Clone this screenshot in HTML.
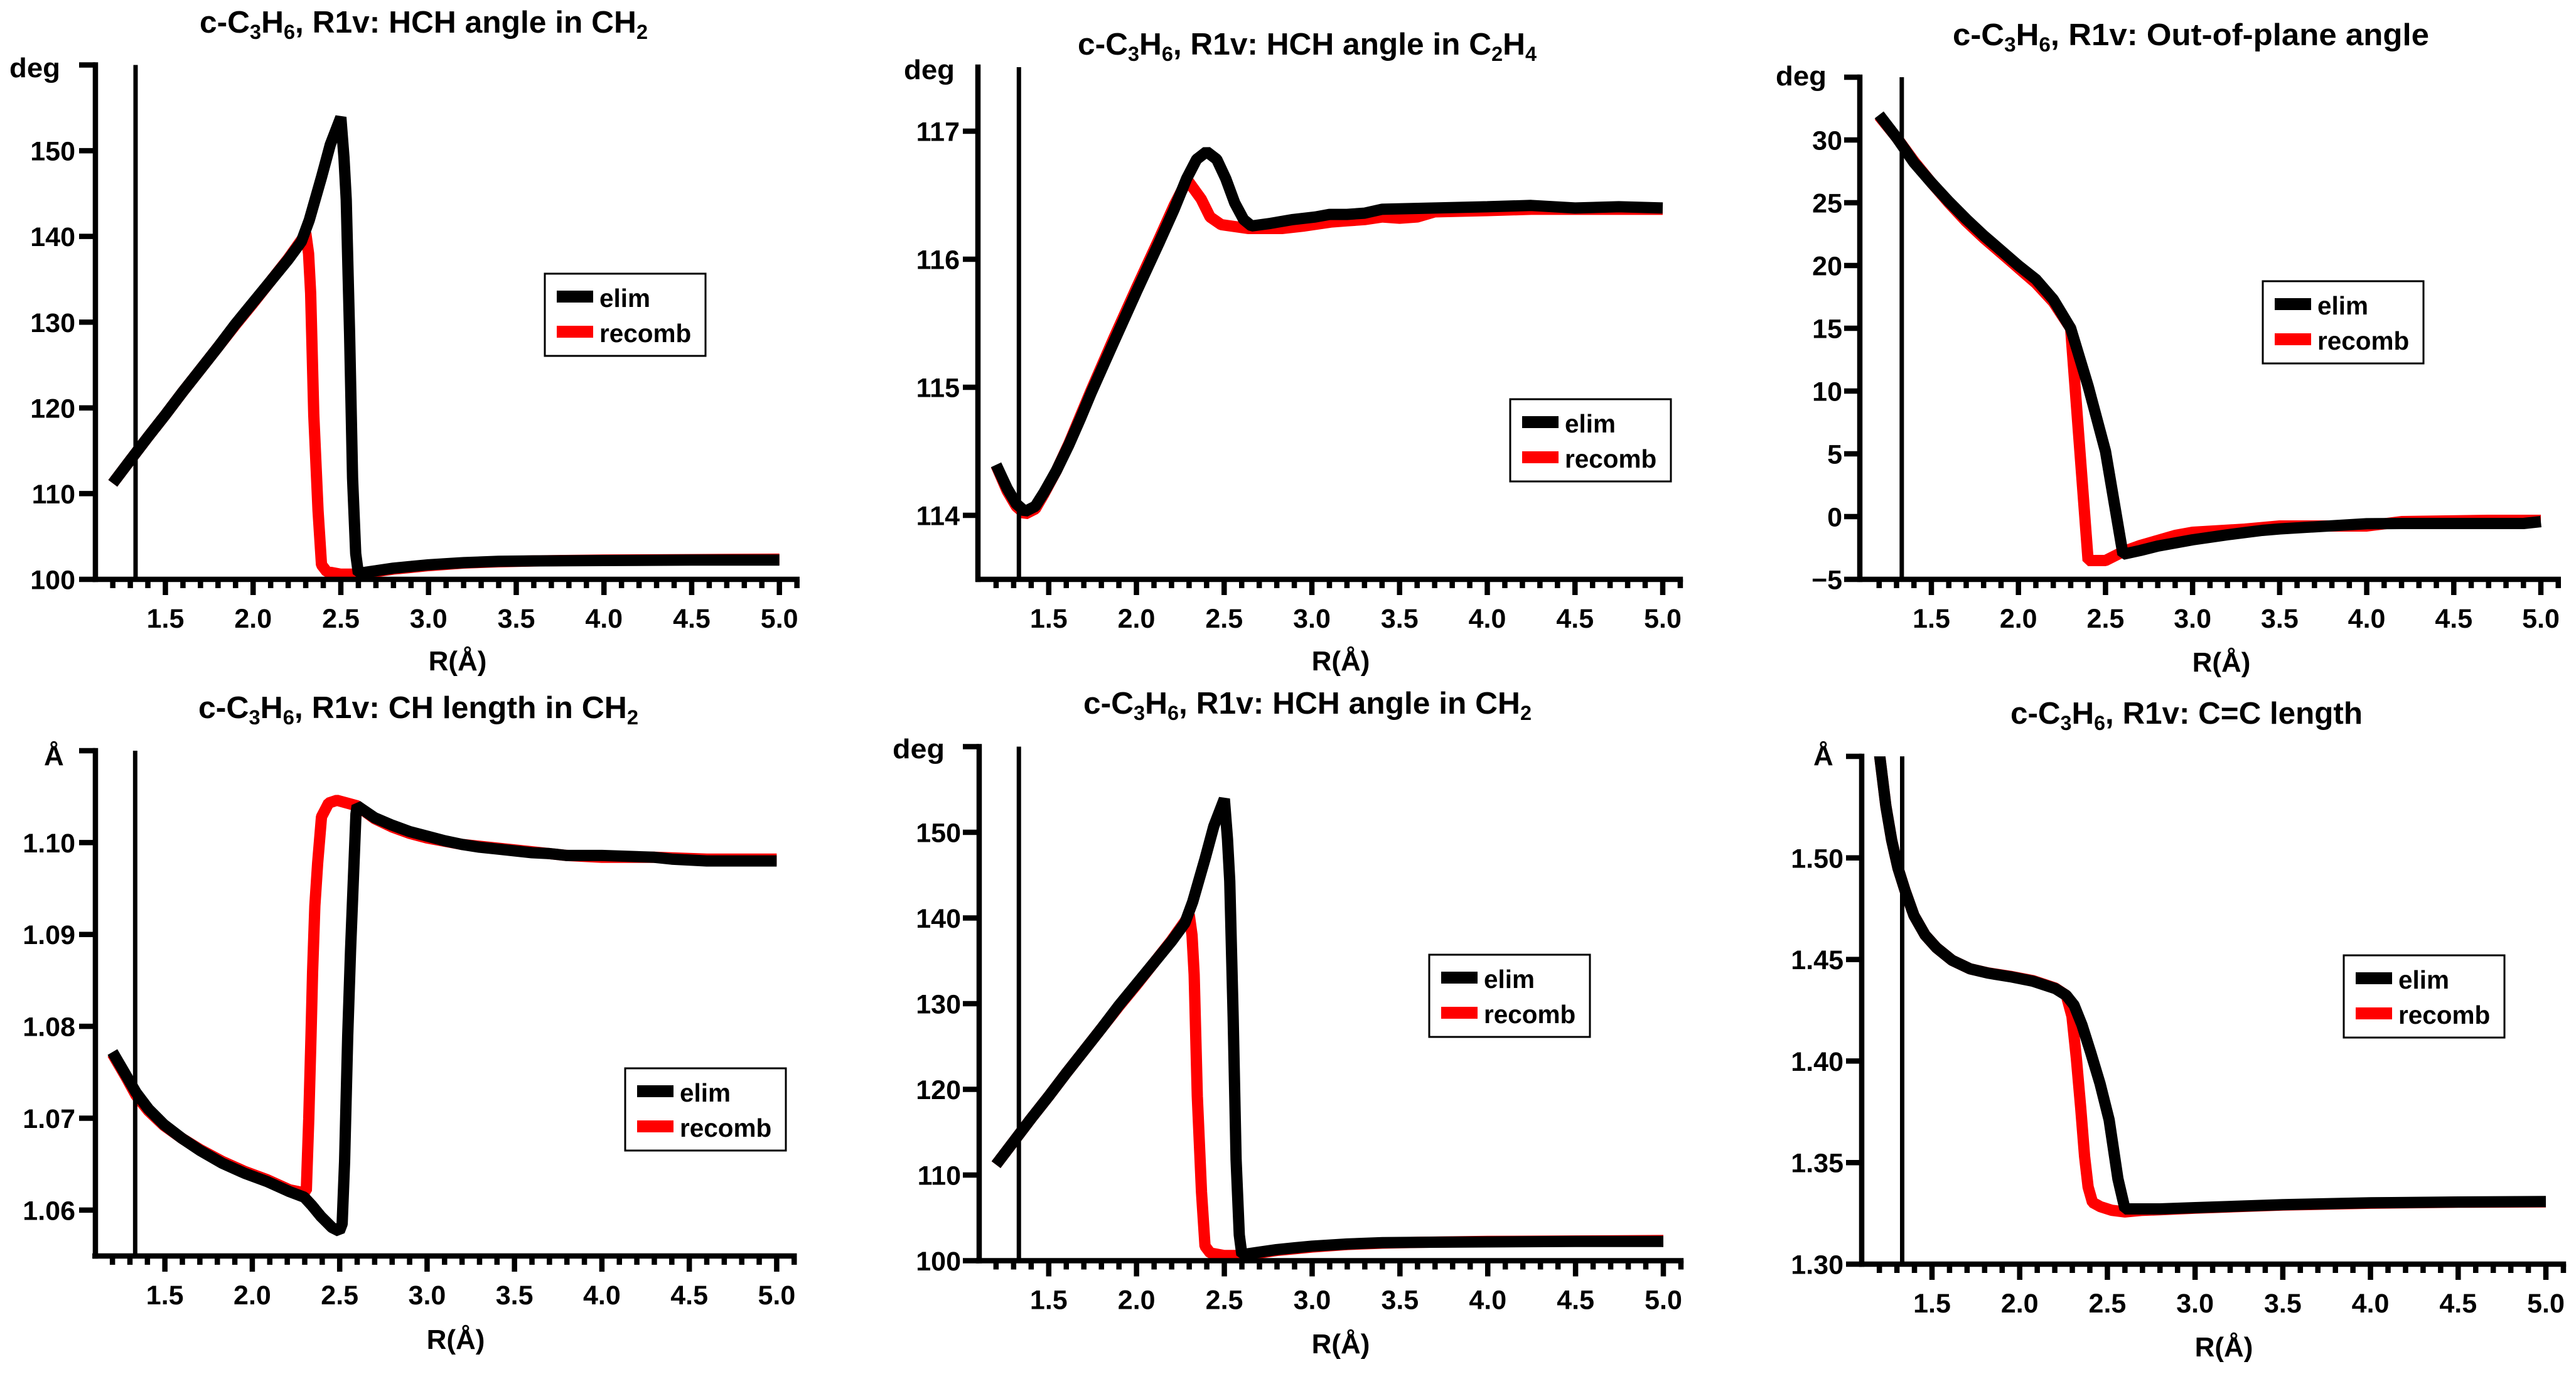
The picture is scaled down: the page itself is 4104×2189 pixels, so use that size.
<!DOCTYPE html>
<html lang="en">
<head>
<meta charset="utf-8">
<title>c-C3H6 R1v geometry panels</title>
<style>
html,body{margin:0;padding:0;background:#fff;}
svg{display:block;}
text{font-family:"Liberation Sans",sans-serif;font-weight:700;fill:#000;}
.title{font-size:49px;}
.title .s{font-size:32px;}
.lab{font-size:44px;}
.tick{font-size:43px;}
.leg{font-size:40.5px;}
</style>
</head>
<body>
<svg id="figure" xmlns="http://www.w3.org/2000/svg" width="4104" height="2189" viewBox="0 0 4104 2189">
<rect x="0" y="0" width="4104" height="2189" fill="#fff"/>
<g id="plots"></g>

<text class="title" x="318" y="52" textLength="714" lengthAdjust="spacingAndGlyphs">c-C<tspan class="s" dy="10">3</tspan><tspan dy="-10">H</tspan><tspan class="s" dy="10">6</tspan><tspan dy="-10">, R1v: HCH angle in CH</tspan><tspan class="s" dy="10">2</tspan></text>
<text class="title" x="1717" y="87" textLength="731" lengthAdjust="spacingAndGlyphs">c-C<tspan class="s" dy="10">3</tspan><tspan dy="-10">H</tspan><tspan class="s" dy="10">6</tspan><tspan dy="-10">, R1v: HCH angle in C</tspan><tspan class="s" dy="10">2</tspan><tspan dy="-10">H</tspan><tspan class="s" dy="10">4</tspan></text>
<text class="title" x="3111" y="72" textLength="759" lengthAdjust="spacingAndGlyphs">c-C<tspan class="s" dy="10">3</tspan><tspan dy="-10">H</tspan><tspan class="s" dy="10">6</tspan><tspan dy="-10">, R1v: Out-of-plane angle</tspan></text>
<text class="title" x="316" y="1144" textLength="701" lengthAdjust="spacingAndGlyphs">c-C<tspan class="s" dy="10">3</tspan><tspan dy="-10">H</tspan><tspan class="s" dy="10">6</tspan><tspan dy="-10">, R1v: CH length in CH</tspan><tspan class="s" dy="10">2</tspan></text>
<text class="title" x="1726" y="1137" textLength="714" lengthAdjust="spacingAndGlyphs">c-C<tspan class="s" dy="10">3</tspan><tspan dy="-10">H</tspan><tspan class="s" dy="10">6</tspan><tspan dy="-10">, R1v: HCH angle in CH</tspan><tspan class="s" dy="10">2</tspan></text>
<text class="title" x="3203" y="1153" textLength="561" lengthAdjust="spacingAndGlyphs">c-C<tspan class="s" dy="10">3</tspan><tspan dy="-10">H</tspan><tspan class="s" dy="10">6</tspan><tspan dy="-10">, R1v: C=C length</tspan></text>

<text class="lab" x="15" y="123" textLength="81" lengthAdjust="spacingAndGlyphs">deg</text>
<text class="lab" x="1440" y="126" textLength="81" lengthAdjust="spacingAndGlyphs">deg</text>
<text class="lab" x="2829" y="136" textLength="81" lengthAdjust="spacingAndGlyphs">deg</text>
<text class="lab" x="70" y="1219">Å</text>
<text class="lab" x="1422" y="1208" textLength="83" lengthAdjust="spacingAndGlyphs">deg</text>
<text class="lab" x="2889" y="1219">Å</text>

<text class="lab" x="729" y="1068" text-anchor="middle">R(Å)</text>
<text class="lab" x="2136" y="1068" text-anchor="middle">R(Å)</text>
<text class="lab" x="3539" y="1070" text-anchor="middle">R(Å)</text>
<text class="lab" x="726" y="2149" text-anchor="middle">R(Å)</text>
<text class="lab" x="2136" y="2156" text-anchor="middle">R(Å)</text>
<text class="lab" x="3543" y="2161" text-anchor="middle">R(Å)</text>

<g transform="translate(868 436)">
<rect x="0" y="0" width="256" height="131" fill="#fff" stroke="#000" stroke-width="3"/>
<rect x="19" y="27" width="58" height="19" fill="#000"/>
<text class="leg" x="87" y="53">elim</text>
<rect x="19" y="83" width="58" height="19" fill="#f00"/>
<text class="leg" x="87" y="109">recomb</text>
</g>
<g transform="translate(2406 636)">
<rect x="0" y="0" width="256" height="131" fill="#fff" stroke="#000" stroke-width="3"/>
<rect x="19" y="27" width="58" height="19" fill="#000"/>
<text class="leg" x="87" y="53">elim</text>
<rect x="19" y="83" width="58" height="19" fill="#f00"/>
<text class="leg" x="87" y="109">recomb</text>
</g>
<g transform="translate(3605 448)">
<rect x="0" y="0" width="256" height="131" fill="#fff" stroke="#000" stroke-width="3"/>
<rect x="19" y="27" width="58" height="19" fill="#000"/>
<text class="leg" x="87" y="53">elim</text>
<rect x="19" y="83" width="58" height="19" fill="#f00"/>
<text class="leg" x="87" y="109">recomb</text>
</g>
<g transform="translate(996 1702)">
<rect x="0" y="0" width="256" height="131" fill="#fff" stroke="#000" stroke-width="3"/>
<rect x="19" y="27" width="58" height="19" fill="#000"/>
<text class="leg" x="87" y="53">elim</text>
<rect x="19" y="83" width="58" height="19" fill="#f00"/>
<text class="leg" x="87" y="109">recomb</text>
</g>
<g transform="translate(2277 1521)">
<rect x="0" y="0" width="256" height="131" fill="#fff" stroke="#000" stroke-width="3"/>
<rect x="19" y="27" width="58" height="19" fill="#000"/>
<text class="leg" x="87" y="53">elim</text>
<rect x="19" y="83" width="58" height="19" fill="#f00"/>
<text class="leg" x="87" y="109">recomb</text>
</g>
<g transform="translate(3734 1522)">
<rect x="0" y="0" width="256" height="131" fill="#fff" stroke="#000" stroke-width="3"/>
<rect x="19" y="27" width="58" height="19" fill="#000"/>
<text class="leg" x="87" y="53">elim</text>
<rect x="19" y="83" width="58" height="19" fill="#f00"/>
<text class="leg" x="87" y="109">recomb</text>
</g>
</svg>

<script>
// ---- shared axis data ----
const xMajorTicks = [1.5, 2.0, 2.5, 3.0, 3.5, 4.0, 4.5, 5.0];
const xMajorLabels = ['1.5', '2.0', '2.5', '3.0', '3.5', '4.0', '4.5', '5.0'];
const xMinorTicks = [1.2, 1.3, 1.4, 1.6, 1.7, 1.8, 1.9, 2.1, 2.2, 2.3, 2.4, 2.6, 2.7, 2.8, 2.9, 3.1, 3.2, 3.3, 3.4, 3.6, 3.7, 3.8, 3.9, 4.1, 4.2, 4.3, 4.4, 4.6, 4.7, 4.8, 4.9, 5.1];
const xAxisEnd = 5.1;
const xAxisStart = 1.1;
const referenceR = 1.33;

// ---- panel 1: HCH angle in CH2 (top) ----
const p1YTicks = [100, 110, 120, 130, 140, 150, 160];
const p1YLabels = ['100', '110', '120', '130', '140', '150', ''];
const p1ElimR = [1.2, 1.3, 1.4, 1.5, 1.6, 1.7, 1.8, 1.9, 2.0, 2.1, 2.2, 2.275, 2.32, 2.39, 2.44, 2.5, 2.518, 2.531, 2.55, 2.567, 2.585, 2.6, 2.7, 2.8, 2.9, 3.0, 3.2, 3.4, 3.6, 4.0, 4.5, 5.0];
const p1ElimV = [111.2, 113.9, 116.6, 119.2, 121.9, 124.5, 127.1, 129.8, 132.3, 134.8, 137.3, 139.4, 141.9, 146.9, 150.7, 153.9, 149.2, 144.3, 128.5, 111.8, 103, 100.7, 101, 101.3, 101.5, 101.7, 101.95, 102.1, 102.15, 102.2, 102.25, 102.25];
const p1RecombR = [1.2, 1.3, 1.4, 1.5, 1.6, 1.7, 1.8, 1.9, 2.0, 2.1, 2.2, 2.29, 2.3, 2.316, 2.328, 2.346, 2.37, 2.39, 2.42, 2.5, 2.6, 2.7, 2.8, 2.9, 3.0, 3.2, 3.4, 3.6, 4.0, 4.5, 5.0];
const p1RecombV = [111.2, 113.9, 116.6, 119.2, 121.9, 124.5, 127.1, 129.7, 132.2, 134.8, 137.4, 140, 140.4, 138, 133.4, 119.2, 108, 101.7, 100.9, 100.6, 100.6, 100.9, 101.2, 101.4, 101.6, 101.9, 102.05, 102.15, 102.25, 102.3, 102.35];

// ---- panel 2: HCH angle in C2H4 ----
const p2YTicks = [114, 115, 116, 117];
const p2YLabels = ['114', '115', '116', '117'];
const p2ElimR = [1.2, 1.263, 1.315, 1.365, 1.423, 1.474, 1.544, 1.615, 1.679, 1.743, 1.87, 1.998, 2.126, 2.215, 2.286, 2.343, 2.4, 2.458, 2.509, 2.56, 2.611, 2.656, 2.764, 2.892, 3.02, 3.1, 3.2, 3.3, 3.4, 3.7, 4.0, 4.25, 4.5, 4.75, 5.0];
const p2ElimV = [114.395, 114.21, 114.09, 114.03, 114.07, 114.18, 114.35, 114.55, 114.75, 114.96, 115.35, 115.74, 116.12, 116.39, 116.63, 116.78, 116.84, 116.78, 116.63, 116.44, 116.31, 116.26, 116.28, 116.31, 116.33, 116.35, 116.35, 116.36, 116.39, 116.4, 116.41, 116.42, 116.4, 116.41, 116.4];
const p2RecombR = [1.2, 1.263, 1.315, 1.365, 1.423, 1.474, 1.544, 1.615, 1.679, 1.743, 1.87, 1.998, 2.126, 2.215, 2.29, 2.311, 2.369, 2.42, 2.483, 2.637, 2.828, 2.957, 3.107, 3.2, 3.3, 3.4, 3.5, 3.6, 3.7, 4.0, 4.25, 4.5, 5.0];
const p2RecombV = [114.39, 114.19, 114.07, 114.01, 114.05, 114.17, 114.35, 114.56, 114.77, 114.98, 115.38, 115.77, 116.15, 116.42, 116.62, 116.58, 116.47, 116.33, 116.27, 116.24, 116.24, 116.26, 116.29, 116.3, 116.31, 116.33, 116.32, 116.33, 116.37, 116.38, 116.39, 116.39, 116.39];

// ---- panel 3: out-of-plane angle ----
const p3YTicks = [-5, 0, 5, 10, 15, 20, 25, 30, 35];
const p3YLabels = ['\u22125', '0', '5', '10', '15', '20', '25', '30', ''];
const p3ElimR = [1.2, 1.3, 1.4, 1.5, 1.6, 1.7, 1.8, 1.9, 2.0, 2.1, 2.2, 2.3, 2.4, 2.5, 2.6, 2.7, 2.8, 2.9, 3.0, 3.1, 3.2, 3.3, 3.4, 3.5, 4.0, 4.2, 4.5, 4.9, 5.0];
const p3ElimV = [32, 30.2, 28.2, 26.6, 25.1, 23.7, 22.4, 21.2, 20, 18.9, 17.3, 15, 10.4, 5.2, -3, -2.7, -2.35, -2.1, -1.85, -1.65, -1.45, -1.27, -1.1, -0.98, -0.57, -0.55, -0.55, -0.55, -0.4];
const p3RecombR = [1.2, 1.3, 1.4, 1.5, 1.6, 1.7, 1.8, 1.9, 2.0, 2.1, 2.2, 2.3, 2.4, 2.5, 2.6, 2.7, 2.8, 2.9, 3.0, 3.3, 3.5, 3.6, 4.0, 4.2, 4.7, 5.0];
const p3RecombV = [31.9, 30.2, 28.3, 26.6, 25, 23.5, 22.2, 21, 19.8, 18.6, 17.1, 15, -3.5, -3.5, -2.8, -2.3, -1.9, -1.5, -1.25, -1, -0.75, -0.75, -0.75, -0.4, -0.3, -0.3];

// ---- panel 4: CH length in CH2 ----
const p4YTicks = [1.06, 1.07, 1.08, 1.09, 1.10, 1.11];
const p4YLabels = ['1.06', '1.07', '1.08', '1.09', '1.10', ''];
const p4ElimR = [1.2, 1.277, 1.335, 1.406, 1.495, 1.598, 1.7, 1.828, 1.957, 2.085, 2.213, 2.297, 2.341, 2.393, 2.456, 2.498, 2.514, 2.528, 2.54, 2.546, 2.562, 2.593, 2.6, 2.7, 2.8, 2.9, 3.0, 3.1, 3.2, 3.3, 3.4, 3.5, 3.6, 3.7, 3.8, 4.0, 4.3, 4.4, 4.6, 5.0];
const p4ElimV = [1.0772, 1.0747, 1.0728, 1.071, 1.0693, 1.0678, 1.0665, 1.0651, 1.064, 1.0631, 1.062, 1.0614, 1.0605, 1.0593, 1.0581, 1.0577, 1.0585, 1.0653, 1.0744, 1.079, 1.0883, 1.1031, 1.104, 1.1027, 1.1019, 1.1012, 1.1007, 1.1002, 1.0998, 1.0995, 1.0993, 1.0991, 1.0989, 1.0988, 1.0986, 1.0986, 1.0984, 1.0982, 1.098, 1.098];
const p4RecombR = [1.2, 1.277, 1.335, 1.406, 1.495, 1.598, 1.7, 1.828, 1.957, 2.085, 2.213, 2.29, 2.309, 2.323, 2.336, 2.345, 2.358, 2.374, 2.396, 2.437, 2.484, 2.6, 2.7, 2.8, 2.9, 3.0, 3.2, 3.5, 3.8, 4.0, 4.3, 4.6, 5.0];
const p4RecombV = [1.077, 1.0745, 1.0725, 1.0708, 1.0692, 1.0678, 1.0666, 1.0653, 1.0642, 1.0633, 1.0622, 1.0619, 1.0621, 1.0699, 1.079, 1.0859, 1.0931, 1.0978, 1.1028, 1.1043, 1.1046, 1.104, 1.1026, 1.1017, 1.101, 1.1005, 1.0998, 1.0992, 1.0986, 1.0984, 1.0984, 1.0982, 1.0982];

// ---- panel 5: HCH angle in CH2 (bottom) ----
const p5YTicks = [100, 110, 120, 130, 140, 150, 160];
const p5YLabels = ['100', '110', '120', '130', '140', '150', ''];
const p5ElimR = [1.2, 1.3, 1.4, 1.5, 1.6, 1.7, 1.8, 1.9, 2.0, 2.1, 2.2, 2.275, 2.32, 2.39, 2.44, 2.5, 2.518, 2.531, 2.55, 2.567, 2.585, 2.6, 2.7, 2.8, 2.9, 3.0, 3.2, 3.4, 3.6, 4.0, 4.5, 5.0];
const p5ElimV = [111.2, 113.9, 116.6, 119.2, 121.9, 124.5, 127.1, 129.8, 132.3, 134.8, 137.3, 139.4, 141.9, 146.9, 150.7, 153.9, 149.2, 144.3, 128.5, 111.8, 103, 100.7, 101, 101.3, 101.5, 101.7, 101.95, 102.1, 102.15, 102.2, 102.25, 102.25];
const p5RecombR = [1.2, 1.3, 1.4, 1.5, 1.6, 1.7, 1.8, 1.9, 2.0, 2.1, 2.2, 2.29, 2.3, 2.316, 2.328, 2.346, 2.37, 2.39, 2.42, 2.5, 2.6, 2.7, 2.8, 2.9, 3.0, 3.2, 3.4, 3.6, 4.0, 4.5, 5.0];
const p5RecombV = [111.2, 113.9, 116.6, 119.2, 121.9, 124.5, 127.1, 129.7, 132.2, 134.8, 137.4, 140, 140.4, 138, 133.4, 119.2, 108, 101.7, 100.9, 100.6, 100.6, 100.9, 101.2, 101.4, 101.6, 101.9, 102.05, 102.15, 102.25, 102.3, 102.35];

// ---- panel 6: C=C length ----
const p6YTicks = [1.30, 1.35, 1.40, 1.45, 1.50, 1.55];
const p6YLabels = ['1.30', '1.35', '1.40', '1.45', '1.50', ''];
const p6ElimR = [1.2, 1.237, 1.27, 1.306, 1.346, 1.397, 1.461, 1.525, 1.614, 1.717, 1.819, 1.947, 2.075, 2.203, 2.266, 2.31, 2.355, 2.405, 2.458, 2.51, 2.56, 2.6, 2.7, 2.8, 3.0, 3.5, 4.0, 4.5, 5.0];
const p6ElimV = [1.5515, 1.5255, 1.5088, 1.495, 1.484, 1.4717, 1.462, 1.4558, 1.4496, 1.4454, 1.4433, 1.4415, 1.4393, 1.4357, 1.4323, 1.4275, 1.4178, 1.4041, 1.3889, 1.371, 1.342, 1.3272, 1.3272, 1.3272, 1.3278, 1.3293, 1.3302, 1.3306, 1.3308];
const p6RecombR = [1.2, 1.237, 1.27, 1.306, 1.346, 1.397, 1.461, 1.525, 1.614, 1.717, 1.819, 1.947, 2.075, 2.203, 2.266, 2.298, 2.323, 2.348, 2.37, 2.39, 2.415, 2.46, 2.525, 2.6, 2.7, 2.8, 3.0, 3.5, 4.0, 4.5, 5.0];
const p6RecombV = [1.5515, 1.5255, 1.5088, 1.495, 1.484, 1.4717, 1.462, 1.4558, 1.4496, 1.4454, 1.4434, 1.4417, 1.4396, 1.4359, 1.4323, 1.422, 1.4013, 1.3766, 1.353, 1.338, 1.3304, 1.3283, 1.3265, 1.3257, 1.3265, 1.3268, 1.3276, 1.3291, 1.33, 1.3305, 1.3307];

// ---- panels: pixel frame is layout, everything else comes from the arrays above ----
const panels = [
  { key: 'p1', x15: 263.5, x50: 1241.7, axisX: 152, top: 103.5, bottom: 923, vMin: 100, vMax: 160, labelRight: 120, tickLeft: 126, yTicks: p1YTicks, yLabels: p1YLabels, elimR: p1ElimR, elimV: p1ElimV, recombR: p1RecombR, recombV: p1RecombV },
  { key: 'p2', x15: 1670.8, x50: 2649, axisX: 1558, top: 107, bottom: 923, vMin: 113.5, vMax: 117.5, labelRight: 1529, tickLeft: 1534, yTicks: p2YTicks, yLabels: p2YLabels, elimR: p2ElimR, elimV: p2ElimV, recombR: p2RecombR, recombV: p2RecombV },
  { key: 'p3', x15: 3077, x50: 4048, axisX: 2963, top: 123, bottom: 923, vMin: -5, vMax: 35, labelRight: 2935, tickLeft: 2938, yTicks: p3YTicks, yLabels: p3YLabels, elimR: p3ElimR, elimV: p3ElimV, recombR: p3RecombR, recombV: p3RecombV },
  { key: 'p4', x15: 262.7, x50: 1237.4, axisX: 152, top: 1196, bottom: 2001, vMin: 1.055, vMax: 1.11, labelRight: 120, tickLeft: 126, yTicks: p4YTicks, yLabels: p4YLabels, elimR: p4ElimR, elimV: p4ElimV, recombR: p4RecombR, recombV: p4RecombV },
  { key: 'p5', x15: 1670.8, x50: 2650, axisX: 1560, top: 1189.5, bottom: 2008.5, vMin: 100, vMax: 160, labelRight: 1531, tickLeft: 1534, yTicks: p5YTicks, yLabels: p5YLabels, elimR: p5ElimR, elimV: p5ElimV, recombR: p5RecombR, recombV: p5RecombV },
  { key: 'p6', x15: 3078, x50: 4056, axisX: 2966, top: 1205, bottom: 2014, vMin: 1.30, vMax: 1.55, labelRight: 2937, tickLeft: 2941, yTicks: p6YTicks, yLabels: p6YLabels, elimR: p6ElimR, elimV: p6ElimV, recombR: p6RecombR, recombV: p6RecombV }
];

const NS = 'http://www.w3.org/2000/svg';
const root = document.getElementById('plots');
const AXIS_W = 8.5;
const CURVE_W = 18;

function make(tag, parent, attrs) {
  const n = document.createElementNS(NS, tag);
  for (const k in attrs) n.setAttribute(k, attrs[k]);
  parent.appendChild(n);
  return n;
}

panels.forEach(function (p) {
  const scaleX = function (r) { return p.x15 + (r - 1.5) * (p.x50 - p.x15) / 3.5; };
  const scaleY = function (v) { return p.bottom - (v - p.vMin) * (p.bottom - p.top) / (p.vMax - p.vMin); };

  const g = make('g', root, {});
  
  

  const clip = make('clipPath', g, { id: 'clip-' + p.key });
  make('rect', clip, { x: 0, y: p.top, width: 4104, height: p.bottom - p.top });

  const curves = [
    { role: 'recomb', color: '#f00', rs: p.recombR, vs: p.recombV },
    { role: 'elim', color: '#000', rs: p.elimR, vs: p.elimV }
  ];
  curves.forEach(function (c) {
    const pts = c.rs.map(function (r, i) { return scaleX(r).toFixed(1) + ',' + scaleY(c.vs[i]).toFixed(1); }).join(' ');
    const line = make('polyline', g, { points: pts, fill: 'none', stroke: c.color, 'stroke-width': CURVE_W, 'stroke-linejoin': 'bevel', 'stroke-linecap': 'butt', 'clip-path': 'url(#clip-' + p.key + ')' });
    
    
  });

  const yAxis = make('line', g, { x1: p.axisX, x2: p.axisX, y1: p.top - AXIS_W / 2, y2: p.bottom + AXIS_W / 2, stroke: '#000', 'stroke-width': AXIS_W });
  
  

  const xAxis = make('line', g, { x1: scaleX(xAxisStart) - AXIS_W / 2, x2: scaleX(xAxisEnd) + AXIS_W / 2, y1: p.bottom, y2: p.bottom, stroke: '#000', 'stroke-width': AXIS_W });
  
  

  const vline = make('line', g, { x1: scaleX(referenceR), x2: scaleX(referenceR), y1: p.top, y2: p.bottom, stroke: '#000', 'stroke-width': 7 });
  
  

  p.yTicks.forEach(function (v, i) {
    const t = make('line', g, { x1: p.tickLeft, x2: p.axisX, y1: scaleY(v), y2: scaleY(v), stroke: '#000', 'stroke-width': AXIS_W });
    
    
    if (p.yLabels[i]) {
      const l = make('text', g, { class: 'tick', x: p.labelRight, y: scaleY(v) + 15.5, 'text-anchor': 'end' });
      l.textContent = p.yLabels[i];
      
      
    }
  });

  xMinorTicks.forEach(function (r) {
    const t = make('line', g, { x1: scaleX(r), x2: scaleX(r), y1: p.bottom, y2: p.bottom + 14, stroke: '#000', 'stroke-width': AXIS_W });
    
    
  });

  xMajorTicks.forEach(function (r, i) {
    const t = make('line', g, { x1: scaleX(r), x2: scaleX(r), y1: p.bottom, y2: p.bottom + 25, stroke: '#000', 'stroke-width': AXIS_W });
    
    
    const l = make('text', g, { class: 'tick', x: scaleX(r), y: p.bottom + 77, 'text-anchor': 'middle' });
    l.textContent = xMajorLabels[i];
    
    
  });
});
</script>
</body>
</html>
